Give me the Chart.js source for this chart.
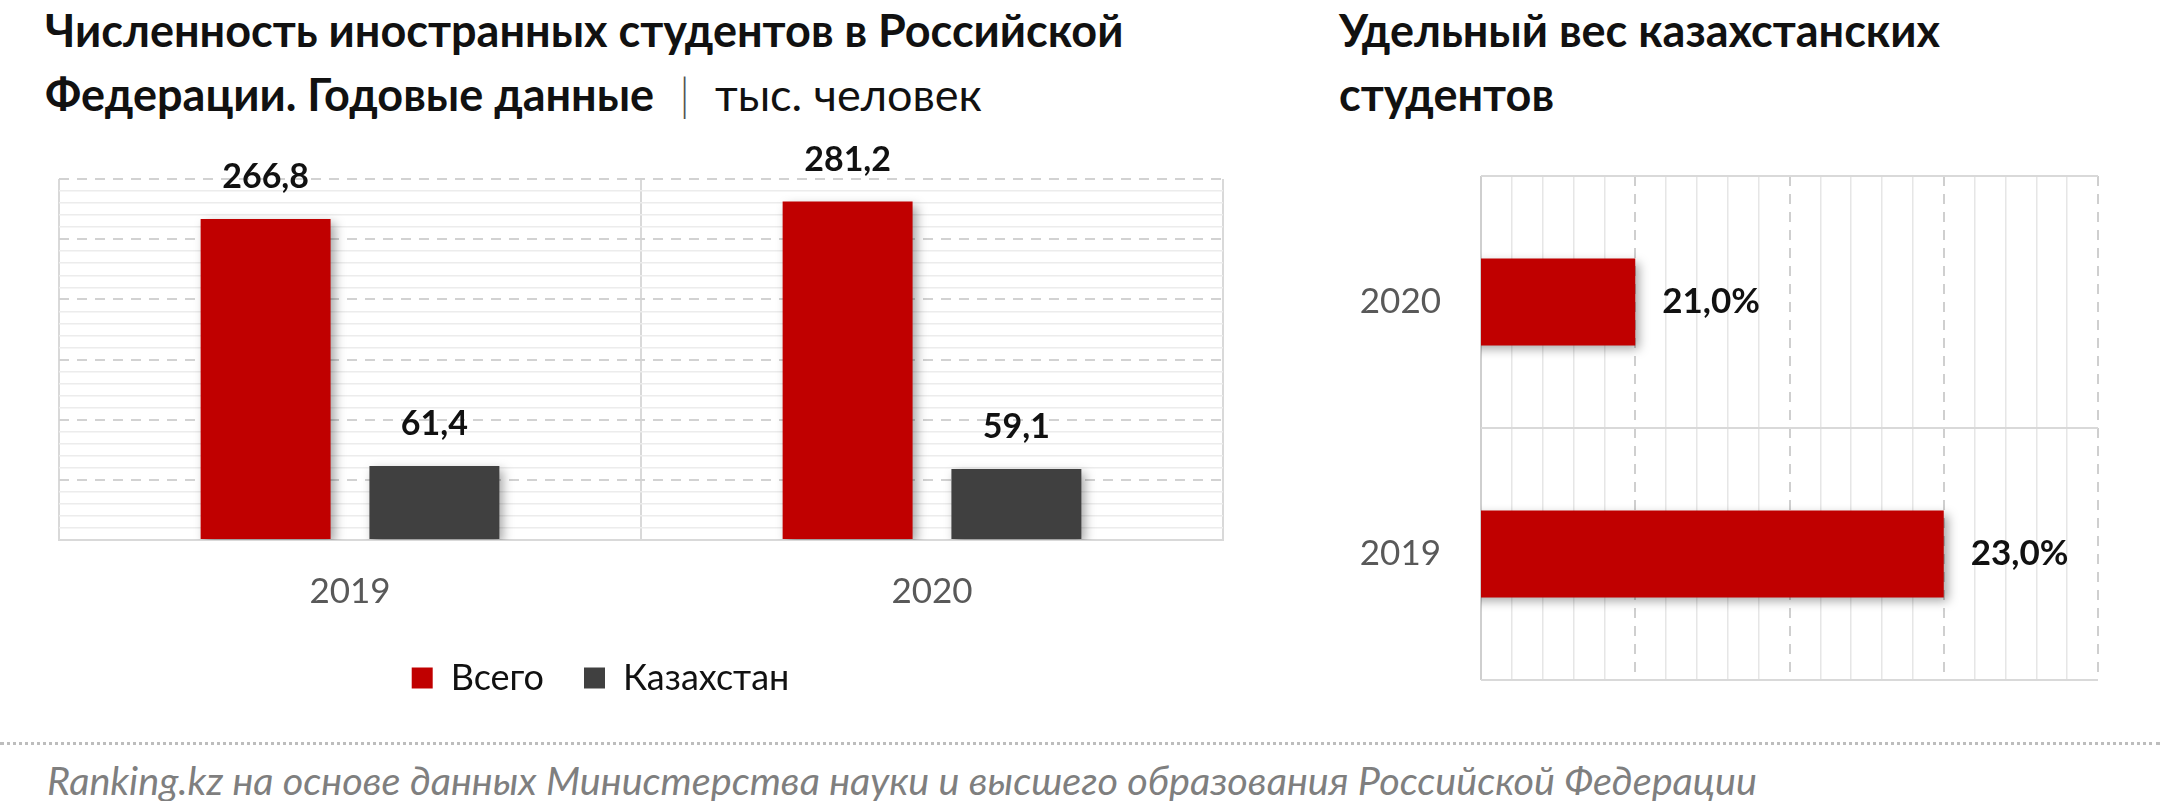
<!DOCTYPE html>
<html>
<head>
<meta charset="utf-8">
<script src="https://cdn.jsdelivr.net/npm/chart.js@4.4.1/dist/chart.umd.min.js"></script>
<style>
  html, body { margin:0; padding:0; background:#fff; }
  body { width:2160px; height:801px; position:relative; overflow:hidden; font-family: Lato, "Noto Sans", sans-serif; }
  .title { position:absolute; font-weight:700; font-size:45px; line-height:64px; color:#111; white-space:nowrap; }
  .title .unit { font-weight:400; }
  .title .sep { font-weight:300; color:#555; padding:0 25px; }
  #c1wrap { position:absolute; left:-22px; top:0; width:1282px; height:720px; }
  #c2wrap { position:absolute; left:1300px; top:100px; width:860px; height:620px; }
  .dots { position:absolute; left:0; top:742px; width:2160px; border-top:3px dotted #BDBDBD; }
  .footer { position:absolute; left:47px; top:756px; font-size:39.6px; font-style:italic; color:#7F7F7F; white-space:nowrap; }
</style>
</head>
<body>
<div class="title" style="left:45px; top:-2px;">Численность иностранных студентов в Российской<br>Федерации. Годовые данные<span class="sep">|</span><span class="unit">тыс. человек</span></div>
<div class="title" style="left:1339px; top:-2px;">Удельный вес казахстанских<br>студентов</div>
<div id="c1wrap"><canvas id="c1"></canvas></div>
<div id="c2wrap"><canvas id="c2"></canvas></div>
<div class="dots"></div>
<div class="footer">Ranking.kz на основе данных Министерства науки и высшего образования Российской Федерации</div>
<script>
// ---- data ----
const years = ['2019', '2020'];
const seriesNames = ['Всего', 'Казахстан'];
const totalStudents = [266.8, 281.2];
const kzStudents = [61.4, 59.1];
const shareYears = ['2020', '2019'];
const kzShare = [21.0, 23.0];

const RED = '#C00000';
const DARK = '#404040';
const fmt = v => v.toFixed(1).replace('.', ',');

const shadowPlugin = {
  id: 'barShadow',
  beforeDatasetsDraw(chart) {
    const c = chart.ctx;
    c.save();
    c.shadowColor = 'rgba(0,0,0,0.35)';
    c.shadowBlur = 10;
    c.shadowOffsetX = 4;
    c.shadowOffsetY = 4;
  },
  afterDatasetsDraw(chart) { chart.ctx.restore(); }
};

const labelPlugin = {
  id: 'valueLabels',
  afterDraw(chart, args, opts) {
    const c = chart.ctx;
    c.save();
    c.font = opts.font;
    c.fillStyle = '#111';
    chart.data.datasets.forEach((ds, di) => {
      const meta = chart.getDatasetMeta(di);
      meta.data.forEach((el, i) => {
        const txt = fmt(ds.data[i]) + (opts.suffix || '');
        if (opts.horizontal) {
          c.textAlign = 'left'; c.textBaseline = 'middle';
          c.fillText(txt, el.x + opts.offset, el.y);
        } else {
          c.textAlign = 'center'; c.textBaseline = 'middle';
          c.fillText(txt, el.x, el.y - opts.offset);
        }
      });
    });
    c.restore();
  }
};

Chart.defaults.font.family = 'Lato, "Noto Sans", sans-serif';
Chart.defaults.animation = false;

const isMult = (v, m) => Math.abs(v / m - Math.round(v / m)) < 1e-6;

new Chart(document.getElementById('c1'), {
  type: 'bar',
  data: {
    labels: years,
    datasets: [
      { label: seriesNames[0], data: totalStudents, backgroundColor: RED, categoryPercentage: 0.58, barPercentage: 0.77 },
      { label: seriesNames[1], data: kzStudents, backgroundColor: DARK, categoryPercentage: 0.58, barPercentage: 0.77 }
    ]
  },
  options: {
    responsive: true, maintainAspectRatio: false,
    layout: { padding: { left: 0, right: 37, top: 179, bottom: 14 } },
    scales: {
      x: {
        grid: { offset: true, color: '#D9D9D9', lineWidth: 2, drawTicks: false },
        border: { display: true, color: '#D9D9D9', width: 2 },
        ticks: { color: '#595959', font: { size: 35 }, padding: 31 },
        afterFit: s => { s.height = 80; s.paddingLeft = 0; s.paddingRight = 0; }
      },
      y: {
        min: 0, max: 300,
        ticks: { display: false, stepSize: 10 },
        grid: {
          drawTicks: false,
          color: ctx => (ctx.tick && isMult(ctx.tick.value, 50)) ? '#D2D2D2' : '#ECECEC',
          lineWidth: ctx => (ctx.tick && isMult(ctx.tick.value, 50)) ? 2 : 1.5
        },
        border: { display: false, dash: ctx => (ctx.tick && isMult(ctx.tick.value, 50) && ctx.tick.value > 0) ? [10, 8] : [] },
        afterFit: s => { s.width = 81; s.paddingTop = 0; s.paddingBottom = 0; }
      }
    },
    plugins: {
      legend: {
        position: 'bottom',
        labels: { boxWidth: 21, boxHeight: 21, color: '#111', font: { size: 36 }, padding: 40 }
      },
      tooltip: { enabled: false },
      valueLabels: { font: 'bold 34px Lato, "Noto Sans", sans-serif', offset: 42 }
    }
  },
  plugins: [shadowPlugin, labelPlugin]
});

new Chart(document.getElementById('c2'), {
  type: 'bar',
  data: {
    labels: shareYears,
    datasets: [
      { label: 'Удельный вес', data: kzShare, backgroundColor: RED, categoryPercentage: 0.7, barPercentage: 0.493 }
    ]
  },
  options: {
    indexAxis: 'y',
    responsive: true, maintainAspectRatio: false,
    layout: { padding: { left: 0, right: 62, top: 76, bottom: 40 } },
    scales: {
      x: {
        min: 20, max: 24,
        ticks: { display: false, stepSize: 0.2 },
        grid: {
          drawTicks: false,
          color: ctx => (ctx.tick && isMult(ctx.tick.value, 1)) ? '#CFCFCF' : '#E6E6E6',
          lineWidth: ctx => (ctx.tick && isMult(ctx.tick.value, 1)) ? 2 : 1.5
        },
        border: { display: false, dash: ctx => (ctx.tick && isMult(ctx.tick.value, 1) && ctx.tick.value > 20) ? [10, 8] : [] },
        afterFit: s => { s.height = 0; s.paddingLeft = 0; s.paddingRight = 0; }
      },
      y: {
        grid: { offset: true, color: '#D9D9D9', lineWidth: 2, drawTicks: false },
        border: { display: false },
        ticks: { color: '#595959', font: { size: 35 }, padding: 40 },
        afterFit: s => { s.width = 181; s.paddingTop = 0; s.paddingBottom = 0; }
      }
    },
    plugins: {
      legend: { display: false },
      tooltip: { enabled: false },
      valueLabels: { font: 'bold 35px Lato, "Noto Sans", sans-serif', offset: 27, horizontal: true, suffix: '%' }
    }
  },
  plugins: [shadowPlugin, labelPlugin]
});
</script>
</body>
</html>
